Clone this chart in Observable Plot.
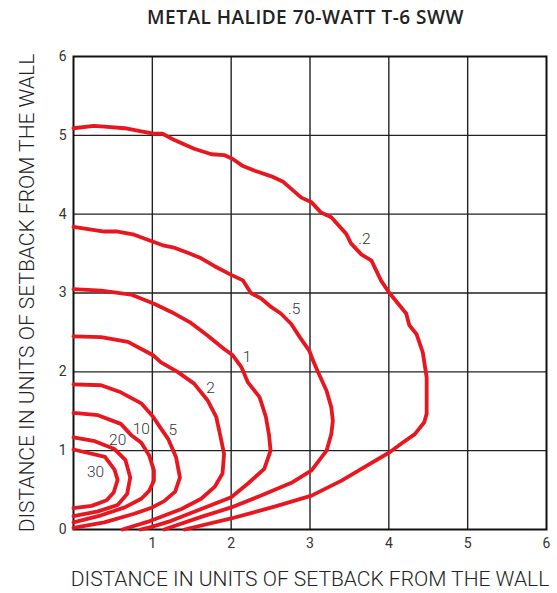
<!DOCTYPE html>
<html>
<head>
<meta charset="utf-8">
<script src="https://cdn.jsdelivr.net/npm/d3@7"></script>
<script src="https://cdn.jsdelivr.net/npm/@observablehq/plot@0.6"></script>
<style>
  html, body { margin: 0; padding: 0; background: #fff; }
  #title { height: 40px; line-height: 35px; text-align: center; font-family: "Open Sans", sans-serif; font-weight: 600; font-size: 19px; color: #222; padding-left: 54px; box-sizing: border-box; width: 557px; letter-spacing: 0.5px; }
</style>
</head>
<body>
<div id="title">METAL HALIDE 70-WATT T-6 SWW</div>
<div id="chart"></div>
<script>
const xTicks = [1, 2, 3, 4, 5, 6];
const yTicks = [0, 1, 2, 3, 4, 5, 6];
const gridValues = [1, 2, 3, 4, 5];
const xLabel = "DISTANCE IN UNITS OF SETBACK FROM THE WALL";
const yLabel = "DISTANCE IN UNITS OF SETBACK FROM THE WALL";

const levels = [".2", ".5", "1", "2", "5", "10", "20", "30"];

const c02 = [[0,5.09],[0.26,5.12],[0.39,5.11],[0.65,5.09],[0.86,5.05],[1.03,5.02],[1.13,5.02],[1.28,4.94],[1.53,4.83],[1.75,4.76],[1.91,4.75],[2.02,4.70],[2.15,4.61],[2.30,4.55],[2.51,4.48],[2.66,4.41],[2.89,4.21],[3.02,4.15],[3.14,4.02],[3.27,3.96],[3.46,3.75],[3.52,3.63],[3.65,3.49],[3.78,3.41],[3.90,3.16],[4.0,3.01],[4.22,2.74],[4.26,2.59],[4.35,2.48],[4.43,2.25],[4.48,1.93],[4.48,1.47],[4.45,1.36],[4.33,1.21],[4.16,1.09],[4.01,0.98],[3.69,0.79],[3.40,0.62],[3.02,0.43],[2.55,0.29],[2.0,0.14],[1.41,0]];
const c05 = [[0,3.84],[0.39,3.78],[0.56,3.78],[0.77,3.74],[1.01,3.65],[1.15,3.60],[1.26,3.58],[1.45,3.51],[1.62,3.44],[1.79,3.34],[2.0,3.23],[2.15,3.16],[2.25,3.0],[2.38,2.93],[2.51,2.82],[2.63,2.74],[2.76,2.61],[2.87,2.44],[2.99,2.27],[3.04,2.14],[3.10,2.0],[3.21,1.76],[3.27,1.55],[3.29,1.38],[3.27,1.21],[3.21,1.0],[3.02,0.75],[2.78,0.60],[2.38,0.43],[2.0,0.28],[1.62,0.16],[1.15,0]];
const c1 = [[0,3.05],[0.35,3.03],[0.73,2.98],[1.03,2.86],[1.24,2.76],[1.49,2.62],[1.70,2.46],[1.91,2.29],[2.02,2.21],[2.13,2.06],[2.21,1.87],[2.36,1.68],[2.44,1.43],[2.48,1.2],[2.50,1.0],[2.42,0.77],[2.21,0.58],[2.0,0.41],[1.62,0.26],[1.24,0.11],[0.98,0.03],[0.85,0]];
const c2 = [[0,2.45],[0.35,2.44],[0.69,2.38],[1.01,2.21],[1.11,2.12],[1.32,2.0],[1.53,1.85],[1.70,1.64],[1.81,1.43],[1.86,1.2],[1.91,0.96],[1.89,0.71],[1.79,0.54],[1.62,0.39],[1.37,0.26],[0.98,0.11],[0.62,0]];
const c5 = [[0,1.84],[0.35,1.83],[0.60,1.74],[0.86,1.60],[1.01,1.43],[1.11,1.28],[1.20,1.15],[1.30,0.92],[1.35,0.66],[1.29,0.48],[1.15,0.36],[1.0,0.28],[0.77,0.20],[0.39,0.09],[0,0.02]];
const c10 = [[0,1.48],[0.31,1.45],[0.60,1.34],[0.73,1.20],[0.86,1.10],[0.96,0.94],[1.02,0.75],[1.02,0.62],[0.96,0.49],[0.86,0.39],[0.65,0.28],[0.35,0.18],[0,0.09]];
const c20 = [[0,1.17],[0.27,1.12],[0.52,1.02],[0.66,0.88],[0.72,0.66],[0.68,0.45],[0.56,0.31],[0.31,0.23],[0,0.17]];
const c30 = [[0,1.015],[0.40,0.92],[0.52,0.76],[0.56,0.63],[0.51,0.47],[0.42,0.37],[0.23,0.30],[0,0.27]];

const labelText = [".2", ".5", "1", "2", "5", "10", "20", "30"];
const labelX = [3.69, 2.80, 2.20, 1.74, 1.26, 0.86, 0.56, 0.28];
const labelY = [3.69, 2.80, 2.19, 1.79, 1.26, 1.27, 1.14, 0.73];

const curves = [c02, c05, c1, c2, c5, c10, c20, c30];
const lineData = curves.flatMap((c, i) => c.map(([x, y]) => ({level: levels[i], x, y})));
const labels = labelText.map((t, i) => ({t, x: labelX[i], y: labelY[i]}));

const ink = "#222";
const red = "#e8161f";

const chart = Plot.plot({
  width: 557,
  height: 553,
  marginLeft: 73,
  marginRight: 11,
  marginTop: 16,
  marginBottom: 64,
  style: {fontFamily: "Roboto, sans-serif", fontSize: "14px", color: "#333", background: "#fff"},
  x: {domain: [0, 6], ticks: xTicks, tickSize: 0, tickPadding: 9, label: null, tickFormat: d => String(d)},
  y: {domain: [0, 6], ticks: yTicks, tickSize: 0, tickPadding: 7, label: null, tickFormat: d => String(d)},
  marks: [
    Plot.ruleX(gridValues, {stroke: ink, strokeWidth: 1.4}),
    Plot.ruleY(gridValues, {stroke: ink, strokeWidth: 1.4}),
    Plot.frame({stroke: "#111", strokeWidth: 2}),
    Plot.line(lineData, {x: "x", y: "y", z: "level", stroke: red, strokeWidth: 3.8, strokeLinejoin: "round", strokeLinecap: "round"}),
    Plot.text(labels, {x: "x", y: "y", text: "t", fill: "#333", fontSize: 15.5, fontWeight: 300}),
    Plot.text([xLabel], {frameAnchor: "bottom", textAnchor: "middle", dy: 56, fontSize: 21, fontWeight: 300, fill: "#222"}),
    Plot.text([yLabel], {frameAnchor: "left", textAnchor: "middle", rotate: -90, dx: -46, fontSize: 21, fontWeight: 300, fill: "#222"})
  ]
});
document.getElementById("chart").appendChild(chart);
</script>
</body>
</html>
